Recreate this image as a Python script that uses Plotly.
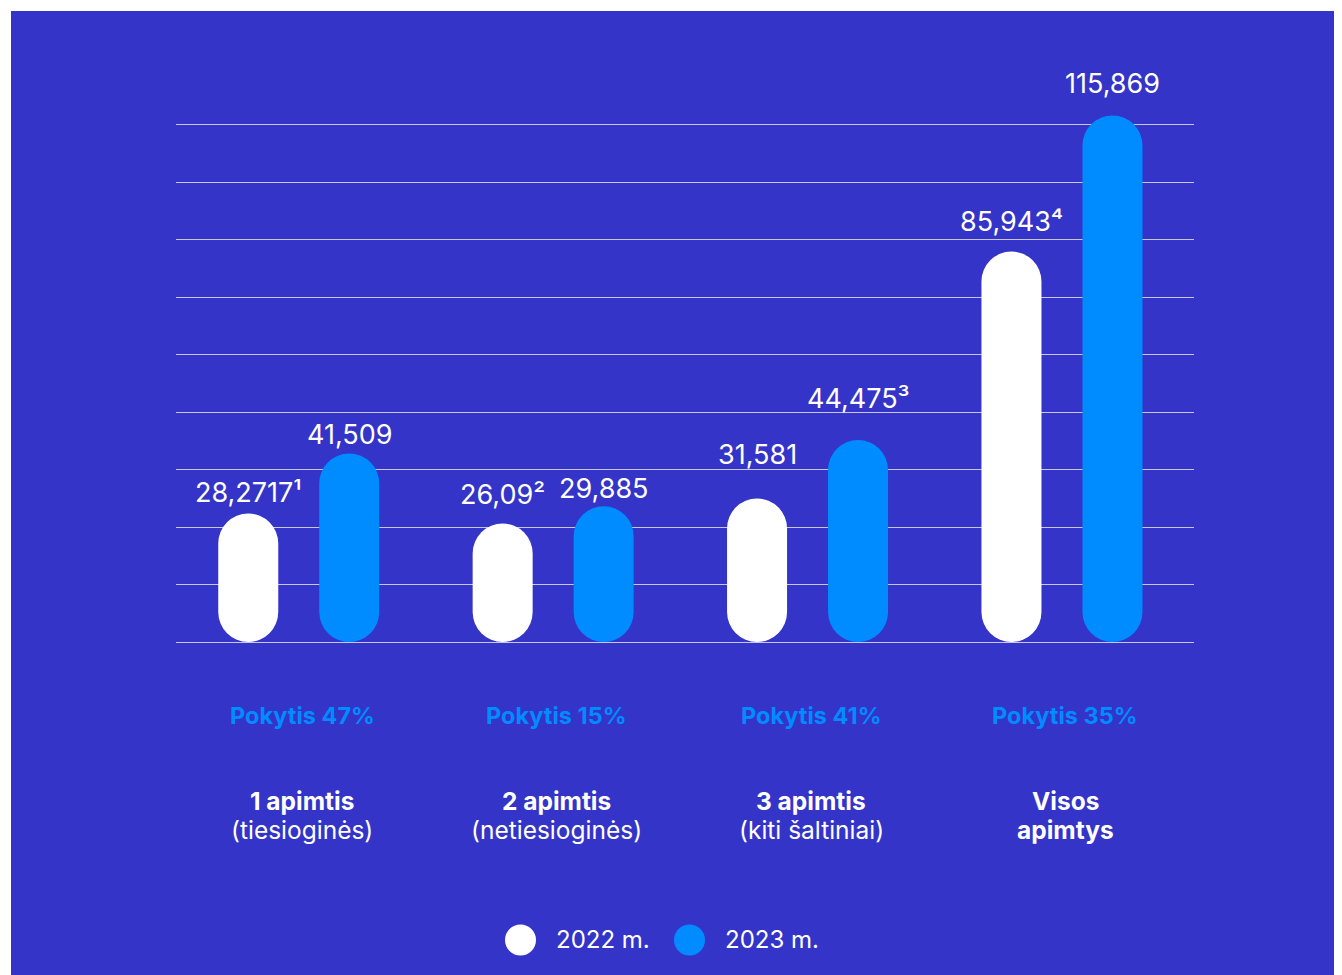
import plotly.graph_objects as go

# ---------------- data ----------------
categories = ["1 apimtis", "2 apimtis", "3 apimtis", "Visos apimtys"]
category_titles = ["1 apimtis", "2 apimtis", "3 apimtis", "Visos"]
category_subtitles = ["(tiesioginės)", "(netiesioginės)", "(kiti šaltiniai)", "apimtys"]
subtitle_bold = [False, False, False, True]
values_2022 = [28.2717, 26.09, 31.581, 85.943]
values_2023 = [41.509, 29.885, 44.475, 115.869]
labels_2022 = ["28,2717¹", "26,09²", "31,581", "85,943⁴"]
labels_2023 = ["41,509", "29,885", "44,475³", "115,869"]
change_labels = ["Pokytis 47%", "Pokytis 15%", "Pokytis 41%", "Pokytis 35%"]
series_names = ["2022 m.", "2023 m."]

# ---------------- style / layout ----------------
OFF = 8  # page offset of the figure inside the browser
W, H = 1342 - OFF, 975 - OFF
ML, MT = 176 - OFF, 70 - OFF
PW, PH = 1018, 572
MR, MB = W - ML - PW, H - MT - PH
YMAX = 125.9
DTICK = 12.65
RADIUS_PX = 30
CAT_PX = 254.4
X_RANGE = [-0.4825, 3.519]
BAR_W = 60 / CAT_PX
SLOT = 101 / CAT_PX
BG = "#3434C8"
WHITE = "#FFFFFF"
BLUE = "#008CFF"
FONT = "Inter"
# pixel gap between bar top and the centre of its value label
label_gap_2022 = [21, 29, 44, 30]
label_gap_2023 = [19, 18, 41, 32]

series = [
    (series_names[0], values_2022, labels_2022, label_gap_2022, WHITE, -SLOT / 2),
    (series_names[1], values_2023, labels_2023, label_gap_2023, BLUE, SLOT / 2),
]

fig = go.Figure()
annotations = []
for name, vals, labels, gaps, color, center in series:
    fig.add_trace(go.Bar(
        x=categories, y=vals, base=[0] * len(vals),
        width=BAR_W, offset=center - BAR_W / 2, name=name,
        marker=dict(color=color, line=dict(width=0), cornerradius=RADIUS_PX),
        showlegend=False, hoverinfo="skip",
    ))
    for i, (v, lab, g) in enumerate(zip(vals, labels, gaps)):
        annotations.append(dict(
            x=i + center, xref="x", y=v, yref="y", yanchor="middle", xanchor="center",
            yshift=g, showarrow=False, text=lab,
            font=dict(family=FONT, size=27, color=WHITE),
        ))


def sx(px):  # screen x -> paper
    return (px - OFF - ML) / PW


def sy(py):  # screen y -> paper
    return (MT + PH - (py - OFF)) / PH


BASE_Y = 642  # screen y of the baseline

for cat, ch in zip(categories, change_labels):
    annotations.append(dict(
        x=cat, xref="x", y=0, yref="paper", yanchor="middle", xanchor="center",
        yshift=-(715 - BASE_Y), xshift=3.5, showarrow=False,
        text=f"<b>{ch}</b>", font=dict(family=FONT, size=23.5, color=BLUE),
    ))
for cat, t1, t2, b2 in zip(categories, category_titles, category_subtitles, subtitle_bold):
    annotations.append(dict(
        x=cat, xref="x", y=0, yref="paper", yanchor="middle", xanchor="center",
        yshift=-(801 - BASE_Y), xshift=3.5, showarrow=False,
        text=f"<b>{t1}</b>", font=dict(family=FONT, size=24.5, color=WHITE),
    ))
    annotations.append(dict(
        x=cat, xref="x", y=0, yref="paper", yanchor="middle", xanchor="center",
        yshift=-(830 - BASE_Y), xshift=3.5, showarrow=False,
        text=f"<b>{t2}</b>" if b2 else t2, font=dict(family=FONT, size=24.5, color=WHITE),
    ))

# legend (manual)
legend_items = [(series_names[0], WHITE, 520.5, 554), (series_names[1], BLUE, 689.5, 723)]
shapes = [dict(type="rect", xref="paper", yref="paper", layer="below",
               x0=sx(11), x1=sx(1400), y0=sy(1040), y1=sy(11),
               fillcolor=BG, line=dict(width=0))]
for name, color, cx, tx in legend_items:
    shapes.append(dict(type="circle", xref="paper", yref="paper",
                       xsizemode="pixel", ysizemode="pixel",
                       xanchor=sx(cx), yanchor=sy(940),
                       x0=-15.5, x1=15.5, y0=-15.5, y1=15.5,
                       fillcolor=color, line=dict(width=0)))
    annotations.append(dict(
        x=sx(tx), xref="paper", y=sy(940), yref="paper",
        xanchor="left", yanchor="middle", showarrow=False,
        text=name, font=dict(family=FONT, size=24, color=WHITE),
    ))

fig.update_layout(
    width=W, height=H,
    margin=dict(l=ML, r=MR, t=MT, b=MB, pad=0),
    paper_bgcolor="#FFFFFF", plot_bgcolor="rgba(0,0,0,0)",
    barmode="overlay", showlegend=False,
    xaxis=dict(range=X_RANGE, showticklabels=False, showgrid=False,
               zeroline=False, showline=False, ticks=""),
    yaxis=dict(range=[0, YMAX], dtick=DTICK, tick0=0, showticklabels=False,
               showgrid=True, gridcolor="rgba(255,255,255,0.72)", gridwidth=1,
               zeroline=True, zerolinecolor="rgba(255,255,255,0.72)", zerolinewidth=1,
               showline=False, ticks=""),
    annotations=annotations, shapes=shapes,
    hovermode=False,
    font=dict(family=FONT),
)

fig.write_html("out.html")
